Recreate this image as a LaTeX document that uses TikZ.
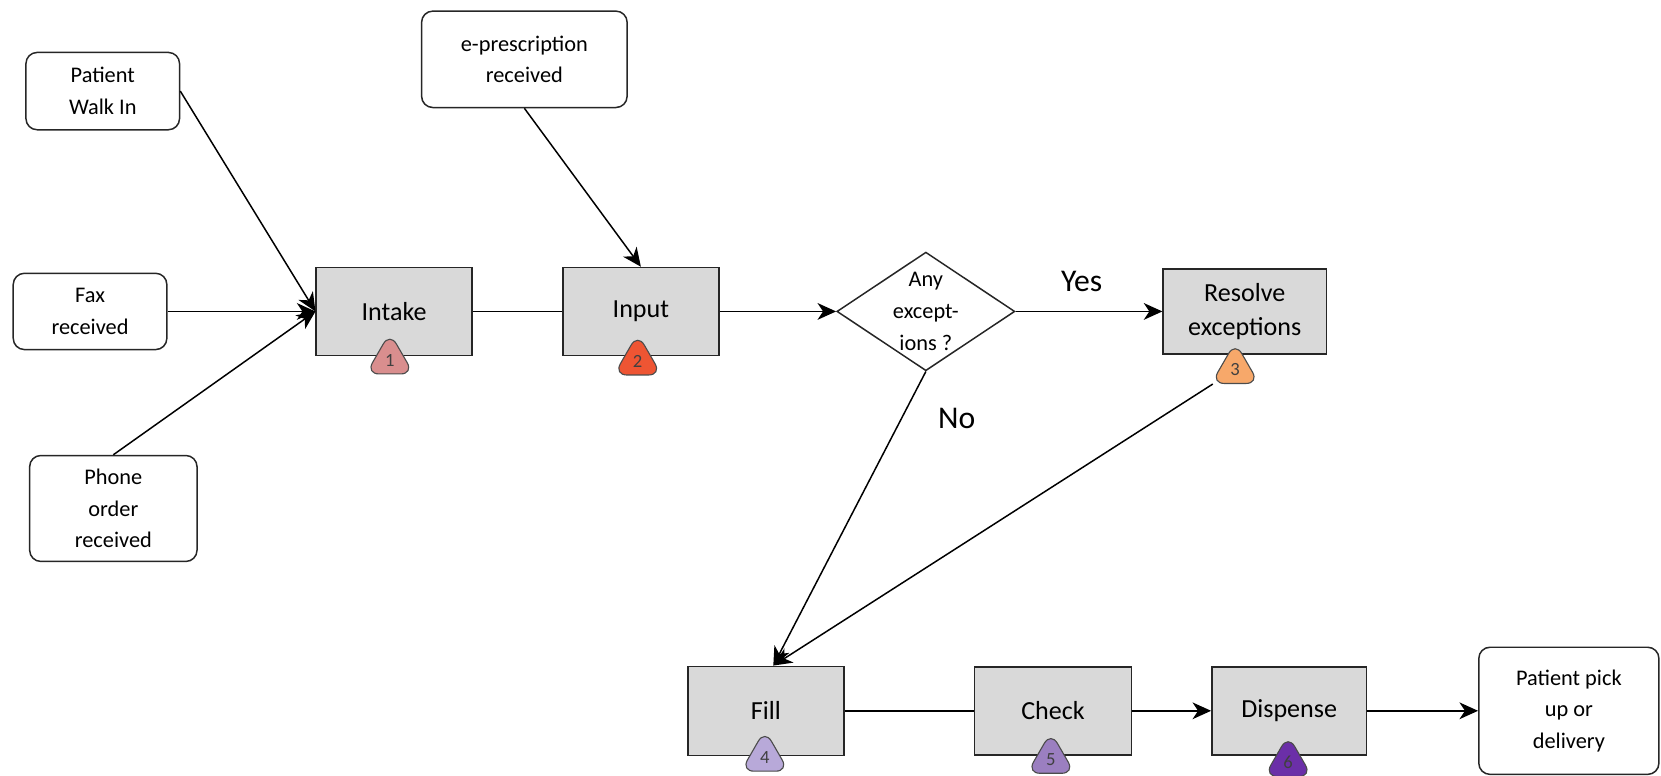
\documentclass[tikz,border=0pt]{standalone}
\usepackage{fontspec}
\setmainfont{Carlito}
\usetikzlibrary{arrows.meta,shapes.geometric}

\tikzset{
  source/.style={draw=black!85, fill=white, rounded corners=6pt, line width=0.8pt,
    align=center, inner sep=0pt, font=\fontsize{12}{17}\selectfont},
  task/.style={draw=black!85, fill=black!15, line width=0.8pt,
    align=center, inner sep=0pt, font=\fontsize{14}{18}\selectfont},
  decision/.style={diamond, draw=black!85, fill=white, line width=0.8pt, inner sep=0pt,
    minimum width=3.36cm, minimum height=2.24cm},
  badge/.style={regular polygon, regular polygon sides=3, draw=black!70, line width=0.6pt,
    minimum size=1.04cm, inner sep=0pt, rounded corners=7pt,
    font=\fontsize{10}{10}\selectfont, text=black!75},
  flow/.style={-{Stealth[length=10pt,width=9pt,inset=3pt]}},
}

\begin{document}
\begin{tikzpicture}[line width=0.8pt]
      \useasboundingbox (0,0) rectangle (31.36,-14.64);
      \draw
        (1.94,-1.72) node[source, minimum width=2.9cm, minimum height=1.46cm] (walkin){Patient\\Walk In}
        (1.70,-5.88) node[source, minimum width=2.9cm, minimum height=1.44cm] (fax){Fax\\received}
        (2.14,-9.60) node[source, minimum width=3.16cm, minimum height=2.0cm] (phone){Phone\\order\\received}
        (9.90,-1.12) node[source, minimum width=3.88cm, minimum height=1.82cm] (epres){e-prescription\\received}
        (7.44,-5.88) node[task, minimum width=2.94cm, minimum height=1.66cm] (intake){Intake}
        (12.10,-5.88) node[task, minimum width=2.94cm, minimum height=1.66cm] (input){Input}
        (17.48,-5.88) node[decision,
          label={[align=center, font=\fontsize{12}{17}\selectfont]center:Any\\except-\\ions ?}] (exc){}
        (23.50,-5.88) node[task, minimum width=3.08cm, minimum height=1.60cm] (resolve){Resolve\\exceptions}
        (14.46,-13.42) node[task, minimum width=2.94cm, minimum height=1.68cm] (fill){Fill}
        (19.88,-13.42) node[task, minimum width=2.96cm, minimum height=1.66cm] (check){Check}
        (24.34,-13.42) node[task, minimum width=2.92cm, minimum height=1.66cm] (dispense){Dispense}
        (29.62,-13.42) node[source, minimum width=3.4cm, minimum height=2.4cm] (pickup){Patient pick\\up or\\delivery};
      % step badges
      \draw
        (7.36,-6.80) node[badge, fill={rgb,255:red,217;green,142;blue,142}] (b1){1}
        (12.04,-6.82) node[badge, fill={rgb,255:red,238;green,85;blue,51}] (b2){2}
        (23.32,-6.98) node[badge, fill={rgb,255:red,247;green,168;blue,106}] (b3){3}
        (14.44,-14.30) node[badge, fill={rgb,255:red,184;green,169;blue,217}] (b4){4}
        (19.84,-14.34) node[badge, fill={rgb,255:red,155;green,127;blue,192}] (b5){5}
        (24.32,-14.40) node[badge, fill={rgb,255:red,107;green,47;blue,168}] (b6){6};
      \begin{scope}[flow]
        \draw (walkin.east) to (intake.west);
        \draw (fax.east) to (intake.west);
        \draw (phone.north) to (intake.west);
        \draw (epres.south) to (input.north);
        \draw (input.east) to (exc.west);
        \draw (exc.east) to node[pos=0.45, above=7pt, font=\fontsize{17}{17}\selectfont]{Yes} (resolve.west);
        \draw (exc.south) to node[pos=0.16, right=16pt, font=\fontsize{17}{17}\selectfont]{No} ([xshift=0.14cm]fill.north);
        \draw (b3) to ([xshift=0.14cm]fill.north);
        \draw (check.east) to (dispense.west);
        \draw (dispense.east) to (pickup.west);
      \end{scope}
      \begin{scope}[-]
        \draw (intake.east) to (input.west);
        \draw (fill.east) to (check.west);
      \end{scope}
    \end{tikzpicture}
\end{document}
